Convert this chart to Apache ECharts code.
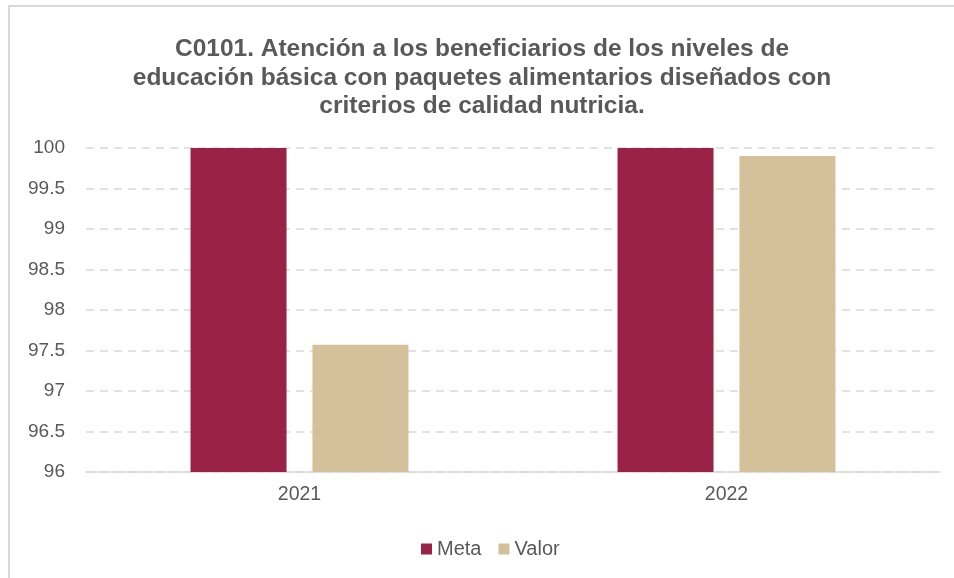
<!DOCTYPE html>
<html>
<head>
<meta charset="utf-8">
<script src="https://cdn.jsdelivr.net/npm/echarts@6/dist/echarts.min.js"></script>
<style>
	html, body { margin: 0; padding: 0; background: #fff; }
	.frame {
		position: absolute;
		left: 8px; top: 5px;
		width: 960px; height: 590px;
		border: 2px solid #d9d9d9;
		box-sizing: border-box;
	}
	#chart { position: absolute; left: 0; top: 0; width: 954px; height: 578px; }
</style>
</head>
<body>
<div class="frame"></div>
<div id="chart"></div>
<script>
	var years = ['2021', '2022'];
	var meta = [100, 100];
	var valor = [97.57, 99.9];
	var titleText = 'C0101. Atención a los beneficiarios de los niveles de\neducación básica con paquetes alimentarios diseñados con\ncriterios de calidad nutricia.';

	var chart = echarts.init(document.getElementById('chart'));
	chart.setOption({
		animation: false,
		title: {
			text: titleText,
			left: 477,
			textAlign: 'center',
			top: 30,
			textStyle: {
				fontFamily: 'Liberation Sans, Arial, sans-serif',
				fontSize: 24.5,
				fontWeight: 'bold',
				color: '#595959',
				lineHeight: 28.5
			}
		},
		legend: {
			data: ['Meta', 'Valor'],
			top: 534,
			left: 416,
			itemWidth: 11,
			itemHeight: 11,
			itemGap: 17,
			icon: 'rect',
			textStyle: {
				fontFamily: 'Liberation Sans, Arial, sans-serif',
				fontSize: 20,
				color: '#595959'
			}
		},
		grid: {
			left: 86,
			right: 14,
			top: 148,
			bottom: 106
		},
		xAxis: {
			type: 'category',
			data: years,
			axisLine: { lineStyle: { color: '#d9d9d9', width: 1.5 } },
			axisTick: { show: false },
			axisLabel: {
				fontFamily: 'Liberation Sans, Arial, sans-serif',
				fontSize: 19.5,
				color: '#595959',
				margin: 13
			}
		},
		yAxis: {
			type: 'value',
			min: 96,
			max: 100,
			interval: 0.5,
			axisLine: { show: false },
			axisTick: { show: false },
			axisLabel: {
				fontFamily: 'Liberation Sans, Arial, sans-serif',
				fontSize: 19,
				color: '#595959',
				margin: 21
			},
			splitLine: {
				lineStyle: { color: '#d9d9d9', width: 1.5, type: [8, 6] }
			}
		},
		series: [{
				name: 'Meta',
				type: 'bar',
				data: meta,
				barWidth: 96,
				barGap: '27%',
				itemStyle: { color: '#9b2247' }
			},
			{
				name: 'Valor',
				type: 'bar',
				data: valor,
				barWidth: 96,
				itemStyle: { color: '#d4c19c' }
			}
		]
	});
</script>
</body>
</html>
